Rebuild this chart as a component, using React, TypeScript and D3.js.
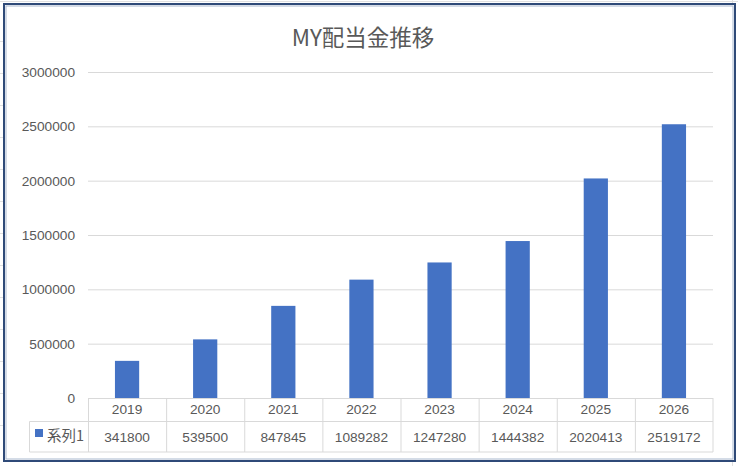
import React, { useMemo } from "react";
import * as d3 from "d3";

const categories = ["2019", "2020", "2021", "2022", "2023", "2024", "2025", "2026"];
const values = [341800, 539500, 847845, 1089282, 1247280, 1444382, 2020413, 2519172];
const yTicks = [0, 500000, 1000000, 1500000, 2000000, 2500000, 3000000];
const seriesName = "系列1";
const title = "MY配当金推移";

const width = 738;
const height = 466;
const plot = { left: 88, right: 713, top: 72, bottom: 398 };
const rowHead = 23.5;
const rowData = 30.5;
const legendLeft = 29.5;

const textColor = "#595959";
const gridColor = "#D9D9D9";
const barColor = "#4472C4";
const font = "'Liberation Sans', 'Noto Sans CJK JP', sans-serif";
const labelSize = 13.7;

export default function App() {
    const x = useMemo(
        () => d3.scaleBand().domain(categories).range([plot.left, plot.right]).paddingInner(0).paddingOuter(0),
        []
    );
    const y = useMemo(() => d3.scaleLinear().domain([0, 3000000]).range([plot.bottom, plot.top]), []);
    const barW = x.bandwidth() * 0.31;
    const headBottom = plot.bottom + rowHead;
    const tableBottom = headBottom + rowData;

    return (
        <svg
            width={width}
            height={height}
            style={{ position: "absolute", left: 0, top: 0, background: "#fff" }}
            fontFamily={font}
        >
            {/* faint spreadsheet cells behind the chart */}
            <g stroke="#E0E0E0" strokeWidth={1}>
                <line x1={0} x2={width} y1={1.5} y2={1.5} />
                <line x1={732.5} x2={732.5} y1={0} y2={height} />
                {[41, 73, 105, 137, 169, 201, 233, 265, 297, 329, 361, 393, 425].map((v) => (
                    <line key={v} x1={0} x2={3} y1={v + 0.5} y2={v + 0.5} />
                ))}
            </g>
            <rect x={4} y={4} width={731} height={457} fill="#fff" stroke="#2F4A78" strokeWidth={2} />
            <rect x={6} y={6} width={727} height={453} fill="none" stroke="#A9B8CE" strokeWidth={1} />

            <text x={width / 2 - 6} y={46} textAnchor="middle" fontSize={22.5} fill={textColor}
                fontFamily="'Noto Sans CJK JP', sans-serif">
                {title}
            </text>

            {yTicks.map((t) => (
                <g key={t}>
                    {t > 0 && (
                        <line x1={plot.left} x2={plot.right} y1={y(t) + 0.5} y2={y(t) + 0.5} stroke={gridColor} />
                    )}
                    <text x={75} y={y(t) + 5} textAnchor="end" fontSize={labelSize} fill={textColor}>
                        {t}
                    </text>
                </g>
            ))}

            {categories.map((c, i) => (
                <rect
                    key={c}
                    x={x(c)! + (x.bandwidth() - barW) / 2}
                    y={y(values[i])}
                    width={barW}
                    height={y(0) - y(values[i])}
                    fill={barColor}
                />
            ))}

            {/* data table */}
            <g stroke={gridColor} strokeWidth={1} fill="none">
                <line x1={plot.left} x2={plot.right} y1={plot.bottom + 0.5} y2={plot.bottom + 0.5} />
                <line x1={legendLeft} x2={plot.right} y1={headBottom} y2={headBottom} />
                <line x1={legendLeft} x2={plot.right} y1={tableBottom} y2={tableBottom} />
                <line x1={legendLeft} x2={legendLeft} y1={headBottom} y2={tableBottom} />
                {categories.map((c) => (
                    <line key={c} x1={x(c)! + 0.5} x2={x(c)! + 0.5} y1={plot.bottom} y2={tableBottom} />
                ))}
                <line x1={plot.right} x2={plot.right} y1={plot.bottom} y2={tableBottom} />
            </g>
            {categories.map((c, i) => (
                <g key={c} fontSize={labelSize} fill={textColor} textAnchor="middle">
                    <text x={x(c)! + x.bandwidth() / 2} y={plot.bottom + 16}>{c}</text>
                    <text x={x(c)! + x.bandwidth() / 2} y={headBottom + 20}>{values[i]}</text>
                </g>
            ))}
            <rect x={35} y={429} width={8} height={8} fill={barColor} />
            <text x={47} y={441} fontSize={14.5} fill={textColor} fontFamily="'Noto Sans CJK JP', sans-serif">
                {seriesName}
            </text>
        </svg>
    );
}
